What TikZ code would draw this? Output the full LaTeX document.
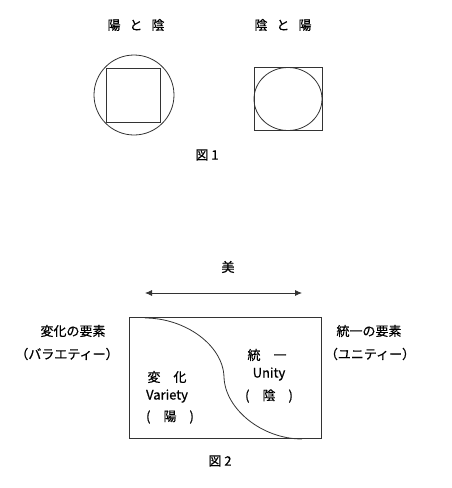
\documentclass[tikz,border=0pt]{standalone}
\usepackage{fontspec}
\setmainfont{Noto Sans CJK JP}[FakeBold=0.6]
\usetikzlibrary{shapes.geometric,arrows.meta}
\begin{document}
\begin{tikzpicture}[x=1pt,y=-1pt,
  every node/.style={inner sep=0pt, outer sep=0pt, font=\fontsize{13}{15}\selectfont},
  line/.style={draw=black!80, line width=0.8pt},
  shapebox/.style={line, rectangle},
  arrowline/.style={line, {Latex[length=7pt,width=6pt]}-{Latex[length=7pt,width=6pt]}}]
\useasboundingbox (0,0) rectangle (452,488);
% Figure 1
\node (lab1) at (136,25) {陽\hspace{9pt}と\hspace{9pt}陰};
\node (lab2) at (283,25) {陰\hspace{9pt}と\hspace{9pt}陽};
\node[line, circle, minimum size=80pt] (c1) at (134,95) {};
\node[shapebox, minimum size=54pt] (s1) at (133,95) {};
\node[shapebox, minimum width=68pt, minimum height=63pt] (s2) at (288,99) {};
\node[line, ellipse, minimum width=68pt, minimum height=63pt] (e2) at (288,99) {};
\node (f1) at (207,155) {図 1};
% Figure 2
\node (bi) at (228,267) {美};
\coordinate (aL) at (145,293);
\coordinate (aR) at (302,293);
\draw[arrowline] (aL) -- (aR);
\node[shapebox, minimum width=192pt, minimum height=121pt] (box) at (225.5,378.3) {};
\coordinate (cT) at (145,318);
\coordinate (cM) at (224,377);
\coordinate (cB) at (302,439);
\draw[line] (cT) .. controls (185,318) and (223,345) .. (cM)
            .. controls (225,409) and (262,439) .. (cB);
\node (lv1) at (73,331) {変化の要素};
\node (lv2) at (67,354) {（バラエティー）};
\node (ru1) at (369,331) {統一の要素};
\node (ru2) at (370,354) {（ユニティー）};
\node (hen) at (167,377) {変　化};
\node (var) at (167,396) {Variety};
\node (you) at (170,417) {(　陽　)};
\node (tou) at (267,355) {統　一};
\node (uni) at (269,374) {Unity};
\node (inn) at (269,396) {(　陰　)};
\node (f2) at (220,461) {図 2};
\end{tikzpicture}
\end{document}
